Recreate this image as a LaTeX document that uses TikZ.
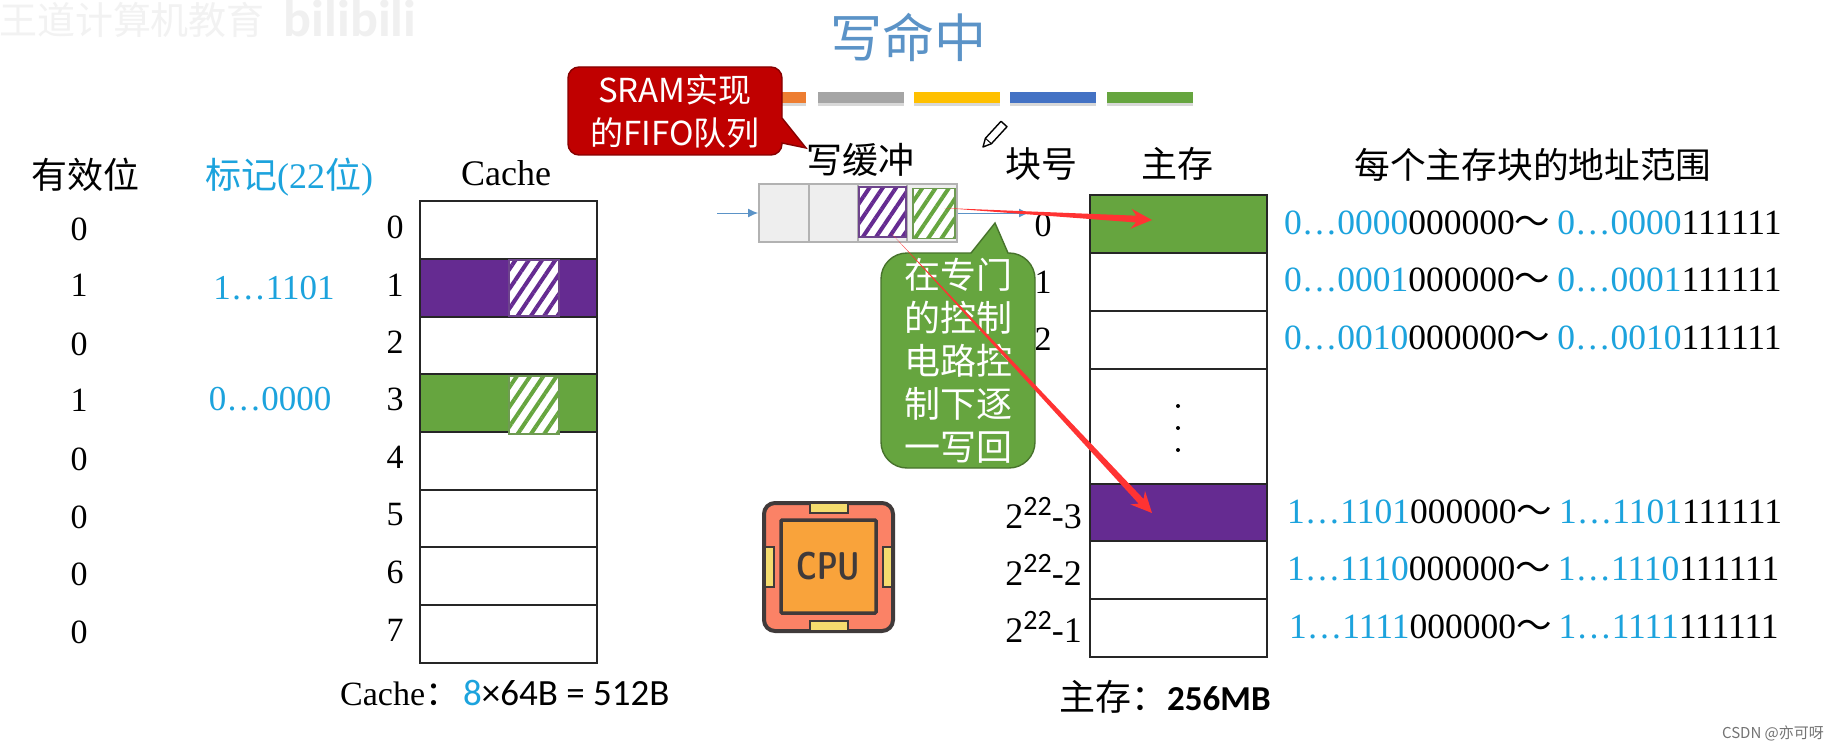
\documentclass[tikz,border=0pt]{standalone}
\usepackage{fontspec}
\usepackage{xcolor}
\usepackage{tikz}
\usetikzlibrary{arrows.meta,calc,patterns.meta,shadows}
\setmainfont{Liberation Serif}
\newfontfamily\cjk{Noto Sans CJK SC}
\newfontfamily\calib{Carlito}
\definecolor{tagblue}{HTML}{1CA3DD}
\definecolor{titleblue}{HTML}{5B93C7}
\definecolor{blockpurple}{HTML}{652B91}
\definecolor{blockgreen}{HTML}{66A53F}
\definecolor{darkline}{HTML}{262626}
\definecolor{iconline}{HTML}{403A3A}
\definecolor{arrowred}{HTML}{FF3333}
\definecolor{sramred}{HTML}{C00000}
\definecolor{tabyellow}{HTML}{F5DC6E}
\newcommand{\tagtxt}[1]{\textcolor{tagblue}{#1}}
\newcommand{\supnum}[1]{\raisebox{13pt}{\fontsize{28}{28}\selectfont\calib #1}}
\newcommand{\addrtxt}[3]{\tagtxt{#1}#2{\cjk ～}\hspace{7pt}\tagtxt{#1}#3}
\newcommand{\taperarrow}[2]{\fill[arrowred] (#1) -- ($(#2)!16pt!(#1)!3.4pt!90:(#2)$) -- ($(#2)!21pt!(#1)!10pt!90:(#2)$) -- (#2) -- ($(#2)!21pt!(#1)!10pt!-90:(#2)$) -- ($(#2)!16pt!(#1)!3.4pt!-90:(#2)$) -- cycle;}

\begin{document}
\begin{tikzpicture}[x=1pt,y=-1pt,>={Latex[length=10pt,width=9pt]},
 txt/.style={font=\fontsize{34}{42}\selectfont,inner sep=0pt,text=black},
 head/.style={font=\fontsize{36}{42}\selectfont,inner sep=0pt,text=black},
 addr/.style={font=\fontsize{35.5}{42}\selectfont,inner sep=0pt,anchor=west},
 cell/.style={draw=darkline,line width=2pt,minimum width=177pt,minimum height=57.7pt,inner sep=0pt},
 bar/.style={minimum width=86pt,minimum height=11pt,inner sep=0pt,drop shadow={shadow xshift=0pt,shadow yshift=-3pt,opacity=.3}},
 hatch/.style={draw=#1!70!gray,line width=1.2pt,inner sep=0pt,preaction={fill=white},
   pattern={Lines[angle=56,distance=11pt,line width=4pt]},pattern color=#1},
 wcell/.style={draw=gray!60,line width=2pt,fill=gray!13,minimum height=58pt,inner sep=0pt},
 tab/.style={draw=iconline,line width=2pt,fill=tabyellow,inner sep=0pt},
 calltxt/.style={inner sep=0pt,align=center,text=white}]
\path[use as bounding box,fill=white] (0,0) rectangle (1842,749);

% watermarks
\node[font=\fontsize{38}{38}\selectfont\cjk,text=black!5,inner sep=0pt] (wmark) at (132,20) {王道计算机教育};
\node[font=\fontsize{52}{52}\selectfont\calib\bfseries,text=black!6,inner sep=0pt] (wbili) at (350,18) {bilibili};
\node[font=\fontsize{15}{15}\selectfont\cjk,text=black!55,inner sep=0pt] (csdn) at (1773,733) {CSDN @亦可呀};

\node[font=\fontsize{52}{52}\selectfont\cjk,text=titleblue,inner sep=0pt] (title) at (908,37) {写命中};

% colour bars
\node[bar,fill={rgb,255:red,237;green,125;blue,49}] (b0) at (763,97.5) {};
\node[bar,fill={rgb,255:red,165;green,165;blue,165}] (b1) at (861,97.5) {};
\node[bar,fill={rgb,255:red,255;green,192;blue,0}] (b2) at (957,97.5) {};
\node[bar,fill={rgb,255:red,68;green,114;blue,196}] (b3) at (1053,97.5) {};
\node[bar,fill=blockgreen] (b4) at (1150,97.5) {};

% valid bits
\node[head] (vhead) at (85,175) {\cjk 有效位};
\node[txt] (v0) at (79,229) {0};
\node[txt] (v1) at (79,285) {1};
\node[txt] (v2) at (79,344) {0};
\node[txt] (v3) at (79,400) {1};
\node[txt] (v4) at (79,459) {0};
\node[txt] (v5) at (79,517) {0};
\node[txt] (v6) at (79,574) {0};
\node[txt] (v7) at (79,632) {0};

% tags
\node[head,text=tagblue] (thead) at (289,177) {{\cjk 标记}(22{\cjk 位})};
\node[txt,text=tagblue,font=\fontsize{35}{42}\selectfont] (t1) at (274,288) {1…1101};
\node[txt,text=tagblue,font=\fontsize{35}{42}\selectfont] (t3) at (270,399) {0…0000};

% cache
\node[head] (chead) at (506,173) {Cache};
\node[cell] (c0) at (508,230) {};
\node[cell,fill=blockpurple] (c1) at (508,287.7) {};
\node[cell] (c2) at (508,345.4) {};
\node[cell,fill=blockgreen] (c3) at (508,403.1) {};
\node[cell] (c4) at (508,460.8) {};
\node[cell] (c5) at (508,518.5) {};
\node[cell] (c6) at (508,576.2) {};
\node[cell] (c7) at (508,633.9) {};
\node[hatch=blockpurple,minimum width=50pt,minimum height=56pt] (h1) at (534,288) {};
\node[hatch=blockgreen,minimum width=50pt,minimum height=58pt] (h3) at (534,405) {};
\node[txt] (n0) at (395,227) {0};
\node[txt] (n1) at (395,285) {1};
\node[txt] (n2) at (395,342) {2};
\node[txt] (n3) at (395,399) {3};
\node[txt] (n4) at (395,457) {4};
\node[txt] (n5) at (395,515) {5};
\node[txt] (n6) at (395,572) {6};
\node[txt] (n7) at (395,630) {7};
\node[txt,anchor=base west] (cfoot) at (340,705) {Cache{\cjk ：}\hspace{4pt}\tagtxt{\calib\fontsize{37}{42}\selectfont 8}{\calib\fontsize{37}{42}\selectfont ×64B = 512B}};

% write buffer
\node[head] (whead) at (860,160) {\cjk 写缓冲};
\coordinate (win) at (717,213);
\coordinate (wout) at (1029,213);
\node[wcell,minimum width=50pt] (w0) at (784,213) {};
\node[wcell,minimum width=49pt] (w1) at (833.5,213) {};
\node[wcell,minimum width=49pt] (w2) at (882.5,213) {};
\node[wcell,minimum width=50pt] (w3) at (932,213) {};
\node[hatch=blockpurple,minimum width=47pt,minimum height=50pt] (wh2) at (882.5,212) {};
\node[hatch=blockgreen,minimum width=42pt,minimum height=50pt] (wh3) at (934,213.5) {};
\draw[->,titleblue,line width=1pt] (win)--(w0);
\draw[->,titleblue,line width=1pt] (w3)--(wout);

% block numbers and main memory
\node[head] (mhead) at (1041,164) {\cjk 块号};
\node[head] (mname) at (1177,164) {\cjk 主存};
\node[txt] (k0) at (1043,225) {0};
\node[txt] (k1) at (1043,282) {1};
\node[txt] (k2) at (1043,339) {2};
\node[head,anchor=east] (k3) at (1082,513) {2\supnum{22}-3};
\node[head,anchor=east] (k4) at (1082,570) {2\supnum{22}-2};
\node[head,anchor=east] (k5) at (1082,627) {2\supnum{22}-1};
\node[cell,fill=blockgreen] (m0) at (1178,224) {};
\node[cell] (m1) at (1178,282) {};
\node[cell] (m2) at (1178,340) {};
\node[cell,minimum height=115pt] (m3) at (1178,426.5) {};
\node[cell,fill=blockpurple] (m4) at (1178,512.5) {};
\node[cell] (m5) at (1178,570) {};
\node[cell] (m6) at (1178,628) {};
\fill[black] (1178,406) circle (2pt) (1178,428) circle (2pt) (1178,450) circle (2pt);
\node[head,anchor=base west] (mfoot) at (1059,710) {{\cjk 主存：}{\calib\bfseries\fontsize{35}{42}\selectfont 256MB}};

% address ranges
\node[head,font=\fontsize{35.7}{42}\selectfont] (ahead) at (1533,165) {\cjk 每个主存块的地址范围};
\node[addr] (a0) at (1284,223) {\addrtxt{0…0000}{000000}{111111}};
\node[addr] (a1) at (1284,280) {\addrtxt{0…0001}{000000}{111111}};
\node[addr] (a2) at (1284,338) {\addrtxt{0…0010}{000000}{111111}};
\node[addr] (a4) at (1287,512) {\addrtxt{1…1101}{000000}{111111}};
\node[addr] (a5) at (1287,569) {\addrtxt{1…1110}{000000}{111111}};
\node[addr] (a6) at (1289,627) {\addrtxt{1…1111}{000000}{111111}};

% cpu icon
\node[draw=iconline,line width=4pt,rounded corners=11pt,fill={rgb,255:red,251;green,130;blue,102},minimum width=129pt,minimum height=128pt,inner sep=0pt] (cpu) at (828.5,567) {};
\node[tab,minimum width=38pt,minimum height=10pt] (pt) at (829,508) {};
\node[tab,minimum width=38pt,minimum height=10pt] (pb) at (829,626) {};
\node[tab,minimum width=9pt,minimum height=40pt] (pl) at (769,567) {};
\node[tab,minimum width=9pt,minimum height=40pt] (pr) at (887,567) {};
\node[draw=iconline,line width=3.5pt,rounded corners=1pt,fill={rgb,255:red,249;green,163;blue,59},minimum width=95pt,minimum height=93pt,inner sep=0pt,font=\fontsize{31}{31}\selectfont\sffamily\bfseries,text=iconline] (die) at (828.5,566.5) {\scalebox{.95}[1.25]{CPU}};

% pencil
\draw[line width=1.4pt,fill=white,line join=round] (983,147)--(991.4,143.7)--(1007,126.7)--(1001,121.3)--(985.4,138.3)--cycle;
\draw[line width=1pt] (985.4,138.3)--(991.4,143.7);

% callouts
\filldraw[draw=sramred!70!black,line width=1.4pt,fill=sramred,rounded corners=11pt] (568,111)--(568,67)--(782,67)[sharp corners]--(782,118)--(806,148)--(782,143)[rounded corners=11pt]--(782,155)--(568,155)--cycle;
\node[calltxt,font=\fontsize{33}{43}\selectfont\cjk] (srambox) at (675,111) {SRAM实现\\的FIFO队列};
\filldraw[draw=blockgreen!70!black,line width=1.4pt,fill=blockgreen,rounded corners=26pt] (881,360)--(881,253)[sharp corners]--(971,253)--(995,223)--(1008,253)[rounded corners=26pt]--(1035,253)--(1035,468)--(881,468)--cycle;
\node[calltxt,font=\fontsize{36}{43}\selectfont\cjk] (ctrlbox) at (958,360.5) {在专门\\的控制\\电路控\\制下逐\\一写回};

% write back arrows
\coordinate (from3) at (944,208);
\coordinate (to0) at (1152,220);
\coordinate (from2) at (891,233);
\coordinate (to4) at (1152,513);
\taperarrow{from3}{to0}
\taperarrow{from2}{to4}
\end{tikzpicture}
\end{document}
